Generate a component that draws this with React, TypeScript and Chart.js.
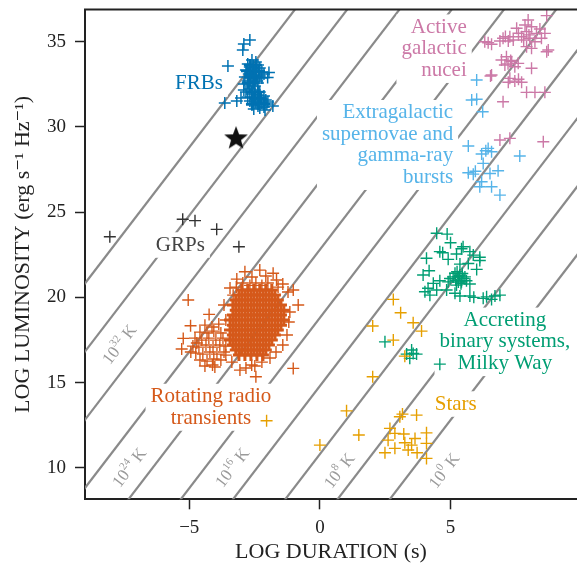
import { useEffect, useRef } from 'react';
import { Chart, registerables } from 'chart.js';

Chart.register(...registerables);

const FONT = '"Liberation Serif", "DejaVu Serif", serif';

// ---------- axes ----------
const xTicks = [-5, 0, 5];
const yTicks = [10, 15, 20, 25, 30, 35];
const xMin = -8.99;
const xMax = 9.84;
const yMin = 8.15;
const yMax = 36.89;

// ---------- brightness temperature lines: log L = offset + log T + 2 log t ----------
const tempExponents = [0, 4, 8, 12, 16, 20, 24, 28, 32, 36];
const tempLumOffset = 2.8;
const tempLabelExponents = [32, 24, 16, 8, 0];

// ---------- data (log duration s, log luminosity) ----------
const frbPts: number[][] = [
  [-2.68, 35.1], [-2.91, 34.87], [-2.95, 34.51], [-3.52, 33.57], [-3.64, 31.4], [-3.18, 31.52],
  [-3.02, 31.7], [-2.03, 31.35], [-1.8, 31.23], [-2.3, 31.11], [-2.53, 31.05], [-2.1, 30.99],
  [-2.6, 33.93], [-2.45, 33.81], [-2.76, 33.69], [-2.37, 33.63], [-2.68, 33.51], [-2.53, 33.46],
  [-2.3, 33.46], [-2.83, 33.34], [-2.6, 33.28], [-2.41, 33.22], [-2.22, 33.22], [-2.72, 33.1],
  [-2.49, 33.05], [-2.3, 32.99], [-2.87, 32.93], [-2.64, 32.87], [-2.45, 32.81], [-2.76, 32.7],
  [-2.56, 32.64], [-2.37, 32.58], [-2.91, 32.52], [-2.68, 32.46], [-2.49, 32.4], [-2.22, 32.87],
  [-2.14, 33.1], [-2.68, 32.23], [-2.49, 32.17], [-2.3, 32.05], [-2.6, 31.93], [-2.37, 31.87],
  [-2.14, 31.81], [-2.76, 31.76], [-2.53, 31.7], [-2.3, 31.64], [-2.07, 31.58], [-2.68, 31.52],
  [-2.45, 31.46], [-2.22, 31.4], [-2.6, 31.29], [-2.37, 31.23], [-2.14, 31.17], [-1.99, 31.46],
  [-2.83, 32.05], [-2.91, 32.17], [-2.55, 33.6], [-2.5, 33.3], [-2.65, 33.0], [-2.4, 32.7],
  [-2.6, 32.1], [-2.45, 31.6], [-2.3, 31.35], [-1.95, 33.2], [-2.0, 32.9],
];

// FRBs: densest part of the two clumps
const frbCorePts: number[][] = [
  [-2.68, 33.63], [-2.45, 33.63], [-2.79, 33.28], [-2.56, 33.28], [-2.33, 33.28], [-2.68, 32.93],
  [-2.45, 32.93], [-2.76, 32.58], [-2.53, 32.58], [-2.6, 32.05], [-2.37, 32.05], [-2.49, 31.7],
  [-2.26, 31.7], [-2.6, 31.35], [-2.37, 31.35], [-2.14, 31.35],
];

const grpPts: number[][] = [
  [-8.04, 23.56], [-5.25, 24.58], [-4.78, 24.5], [-3.95, 23.99], [-3.1, 22.97],
];

const starPts: number[][] = [[-3.21, 29.39]];

// Rotating radio transients / pulsars: dense core
const rratCorePts: number[][] = [
  [-2.99, 20.43], [-2.76, 20.43], [-2.53, 20.43], [-2.3, 20.43], [-2.07, 20.43], [-1.84, 20.43],
  [-3.1, 20.14], [-2.87, 20.14], [-2.64, 20.14], [-2.41, 20.14], [-2.18, 20.14], [-1.95, 20.14], [-1.72, 20.14],
  [-3.22, 19.84], [-2.99, 19.84], [-2.76, 19.84], [-2.53, 19.84], [-2.3, 19.84], [-2.07, 19.84], [-1.84, 19.84], [-1.61, 19.84],
  [-3.33, 19.55], [-3.1, 19.55], [-2.87, 19.55], [-2.64, 19.55], [-2.41, 19.55], [-2.18, 19.55], [-1.95, 19.55], [-1.72, 19.55], [-1.49, 19.55],
  [-3.22, 19.25], [-2.99, 19.25], [-2.76, 19.25], [-2.53, 19.25], [-2.3, 19.25], [-2.07, 19.25], [-1.84, 19.25], [-1.61, 19.25], [-1.38, 19.25],
  [-3.33, 18.96], [-3.1, 18.96], [-2.87, 18.96], [-2.64, 18.96], [-2.41, 18.96], [-2.18, 18.96], [-1.95, 18.96], [-1.72, 18.96], [-1.49, 18.96],
  [-3.44, 18.67], [-3.22, 18.67], [-2.99, 18.67], [-2.76, 18.67], [-2.53, 18.67], [-2.3, 18.67], [-2.07, 18.67], [-1.84, 18.67], [-1.61, 18.67], [-1.38, 18.67],
  [-3.33, 18.37], [-3.1, 18.37], [-2.87, 18.37], [-2.64, 18.37], [-2.41, 18.37], [-2.18, 18.37], [-1.95, 18.37], [-1.72, 18.37], [-1.49, 18.37],
  [-3.44, 18.08], [-3.22, 18.08], [-2.99, 18.08], [-2.76, 18.08], [-2.53, 18.08], [-2.3, 18.08], [-2.07, 18.08], [-1.84, 18.08], [-1.61, 18.08],
  [-3.33, 17.79], [-3.1, 17.79], [-2.87, 17.79], [-2.64, 17.79], [-2.41, 17.79], [-2.18, 17.79], [-1.95, 17.79], [-1.72, 17.79],
  [-3.44, 17.49], [-3.22, 17.49], [-2.99, 17.49], [-2.76, 17.49], [-2.53, 17.49], [-2.3, 17.49], [-2.07, 17.49], [-1.84, 17.49],
  [-3.33, 17.2], [-3.1, 17.2], [-2.87, 17.2], [-2.64, 17.2], [-2.41, 17.2], [-2.18, 17.2], [-1.95, 17.2],
  [-3.22, 16.91], [-2.99, 16.91], [-2.76, 16.91], [-2.53, 16.91], [-2.3, 16.91], [-2.07, 16.91],
  [-3.1, 16.61], [-2.87, 16.61], [-2.64, 16.61], [-2.41, 16.61], [-2.18, 16.61],
];

// Rotating radio transients / pulsars: sparse edge, left group and outliers
const rratPts: number[][] = [
  [-2.87, 21.5], [-2.3, 21.6], [-1.79, 21.41], [-1.66, 21.02], [-3.18, 21.07], [-2.6, 21.19],
  [-2.07, 21.25], [-3.32, 20.13], [-3.44, 20.55], [-1.42, 20.78], [-1.22, 20.31], [-1.02, 20.43],
  [-0.83, 19.55], [-1.15, 19.14], [-1.19, 18.55], [-1.26, 17.79], [-1.42, 17.2], [-1.68, 16.79],
  [-1.91, 16.44], [-2.22, 16.2], [-2.49, 15.97], [-2.83, 15.85], [-2.45, 15.34], [-3.06, 15.73],
  [-2.61, 16.03], [-3.37, 16.2], [-3.6, 16.61], [-3.67, 19.55], [-3.6, 18.67],
  [-2.95, 20.84], [-2.45, 20.84], [-1.99, 20.84], [-2.68, 20.7], [-2.22, 20.7], [-3.2, 20.6], [-1.6, 20.6],
  [-4.4, 18.37], [-4.13, 18.26], [-3.87, 18.43], [-4.59, 17.96], [-4.32, 17.91], [-4.06, 18.02],
  [-3.79, 17.91], [-4.78, 17.61], [-4.52, 17.49], [-4.25, 17.61], [-3.98, 17.49], [-3.71, 17.61],
  [-4.86, 17.14], [-4.63, 17.08], [-4.36, 17.2], [-4.09, 17.08], [-3.83, 17.2], [-3.6, 17.14],
  [-4.75, 16.73], [-4.48, 16.67], [-4.21, 16.79], [-3.94, 16.67], [-3.67, 16.79], [-4.59, 16.32],
  [-4.32, 16.26], [-4.06, 16.38], [-3.79, 16.32], [-4.4, 15.97], [-4.02, 15.91], [-4.71, 17.32],
  [-4.94, 16.79],
  [-5.04, 19.84], [-4.24, 19.0], [-4.95, 18.33], [-5.23, 17.59], [-5.29, 16.97], [-1.02, 15.83], [-4.11, 16.03],
];

const agnPts: number[][] = [
  [8.68, 36.53], [7.97, 36.27], [7.85, 35.98], [8.1, 35.88], [7.53, 35.79], [8.42, 35.75],
  [8.29, 35.49], [8.61, 35.49], [7.91, 35.59], [7.27, 35.29], [7.01, 35.2], [7.21, 35.04],
  [7.4, 35.1], [7.72, 35.29], [8.04, 35.2], [8.48, 35.2], [8.23, 35.0], [6.31, 35.0],
  [6.57, 34.85], [6.89, 35.04], [7.91, 34.71], [8.1, 34.61], [8.68, 34.41], [7.14, 34.12],
  [6.95, 33.93], [7.34, 33.83], [7.59, 33.73], [7.08, 33.63], [7.46, 33.53], [8.1, 33.44],
  [6.57, 33.05], [7.27, 32.85], [7.46, 32.69], [7.72, 32.62], [7.21, 32.62], [7.91, 32.03],
  [8.23, 32.03], [8.61, 32.03], [7.01, 31.48], [6.44, 34.94], [6.53, 32.99], [6.89, 29.23],
  [7.27, 29.33], [8.55, 29.13], [8.74, 34.51], [7.6, 35.5], [7.8, 35.1], [8.0, 35.4],
  [7.1, 35.3], [7.3, 33.9], [7.2, 33.7], [7.6, 32.8],
];

const grbPts: number[][] = [
  [6.0, 32.75], [5.81, 31.58], [6.0, 31.62], [6.23, 30.89], [5.68, 28.88], [6.19, 28.41],
  [6.44, 28.74], [6.57, 28.54], [6.25, 27.86], [7.65, 28.29], [5.68, 27.31], [5.87, 27.23],
  [6.51, 27.27], [6.82, 27.43], [6.19, 26.78], [6.57, 26.49], [6.89, 26.0], [6.12, 26.49],
  [6.35, 28.6], [5.95, 27.4],
];

const binaryPts: number[][] = [
  [4.47, 23.76], [4.87, 23.71], [5.0, 23.2], [4.08, 22.29], [4.59, 22.68], [4.7, 22.62],
  [4.91, 22.23], [5.23, 22.54], [5.48, 22.97], [5.74, 22.68], [6.12, 22.35], [5.87, 22.48],
  [5.36, 21.95], [5.68, 21.99], [6.0, 21.64], [4.18, 21.56], [3.95, 21.31], [5.17, 21.41],
  [5.29, 21.21], [5.48, 21.11], [5.61, 20.97], [5.74, 20.78], [4.98, 21.11], [4.91, 20.91],
  [4.59, 20.97], [4.34, 20.82], [4.14, 20.53], [4.02, 20.33], [4.47, 20.43], [4.85, 20.43],
  [5.23, 20.72], [5.42, 20.91], [5.17, 20.24], [5.36, 20.08], [5.74, 20.08], [5.89, 20.0],
  [4.21, 20.13], [6.38, 20.03], [6.7, 20.08], [6.89, 20.13], [6.57, 19.88], [6.25, 19.94],
  [5.2, 21.0], [5.35, 21.3], [5.3, 20.9], [5.45, 21.4], [5.1, 21.2], [5.25, 21.5],
  [5.4, 20.8], [5.55, 21.2], [5.42, 22.85], [6.12, 22.16],
  [2.49, 17.39], [3.32, 16.67], [3.51, 16.91], [3.57, 16.71], [3.7, 16.67], [3.44, 16.42], [4.59, 16.08],
];

const starsPts: number[][] = [
  [2.81, 19.88], [3.09, 19.1], [3.57, 18.51], [3.89, 18.02], [2.02, 18.32], [2.81, 17.49],
  [3.25, 16.55], [2.02, 15.34], [1.02, 13.34], [1.49, 11.92], [0.0, 11.33], [3.16, 13.15],
  [3.7, 13.09], [3.06, 12.99], [2.68, 12.31], [2.87, 12.02], [3.21, 11.98], [3.64, 11.72],
  [4.08, 12.05], [2.61, 11.62], [2.87, 11.14], [2.49, 10.88], [3.38, 11.04], [3.72, 10.88],
  [4.08, 11.43], [4.08, 10.55], [3.25, 11.47], [3.51, 11.33], [-2.04, 12.76],
];

// ---------- colours ----------
const C_FRB = '#0072B2';
const C_GRP = '#333333';
const C_RRAT = '#D5591A';
const C_AGN = '#CC79A7';
const C_GRB = '#56B4E9';
const C_BIN = '#009E73';
const C_STAR = '#E69F00';
const C_TEMP = '#8a8a8a';
const C_TEMP_LABEL = '#9a9a9a';
const C_AXIS = '#222222';

// ---------- annotations ----------
const textLabels = [
  { lines: ['FRBs'], x: -4.63, y: 32.52, color: C_FRB, align: 'center' },
  { lines: ['GRPs'], x: -5.34, y: 23.07, color: '#444444', align: 'center' },
  { lines: ['Active', 'galactic', 'nucei'], x: 5.62, y: 34.59, color: C_AGN, align: 'right' },
  { lines: ['Extragalactic', 'supernovae and', 'gamma-ray', 'bursts'], x: 5.1, y: 28.94, color: C_GRB, align: 'right' },
  { lines: ['Accreting', 'binary systems,', 'Milky Way'], x: 7.08, y: 17.39, color: C_BIN, align: 'center' },
  { lines: ['Stars'], x: 5.2, y: 13.74, color: C_STAR, align: 'center' },
  { lines: ['Rotating radio', 'transients'], x: -4.17, y: 13.55, color: C_RRAT, align: 'center' },
];
const tempLabelPos = [
  { x: -7.65, y: 17.2 },
  { x: -7.27, y: 9.98 },
  { x: -3.33, y: 9.98 },
  { x: 0.77, y: 9.8 },
  { x: 4.78, y: 9.8 },
];

function makeStar(size: number, color: string) {
  const c = document.createElement('canvas');
  c.width = size;
  c.height = size;
  const g = c.getContext('2d')!;
  const R = size / 2 - 0.5;
  const r = R * 0.42;
  const cx = size / 2;
  const cy = size / 2 + R * 0.095;
  g.beginPath();
  for (let i = 0; i < 10; i++) {
    const a = -Math.PI / 2 + (i * Math.PI) / 5;
    const rad = i % 2 === 0 ? R : r;
    g.lineTo(cx + rad * Math.cos(a), cy + rad * Math.sin(a));
  }
  g.closePath();
  g.fillStyle = color;
  g.fill();
  return c;
}

const annotationPlugin = {
  id: 'annotations',
  beforeDatasetsDraw(chart: any) {
    chart.$annDone = false;
  },
  beforeDatasetDraw(chart: any, args: any) {
    const ds = chart.data.datasets[args.index];
    if (String(ds.label).startsWith('T_') || chart.$annDone) return;
    chart.$annDone = true;
    const ctx = chart.ctx as CanvasRenderingContext2D;
    const xs = chart.scales.x;
    const ys = chart.scales.y;
    const area = chart.chartArea;
    ctx.save();
    ctx.beginPath();
    ctx.rect(area.left, area.top, area.right - area.left, area.bottom - area.top);
    ctx.clip();

    // temperature labels
    const pxPerX = Math.abs(xs.getPixelForValue(1) - xs.getPixelForValue(0));
    const pxPerY = Math.abs(ys.getPixelForValue(1) - ys.getPixelForValue(0));
    const angle = Math.atan2(2 * pxPerY, pxPerX);
    tempLabelExponents.forEach((e, i) => {
      const p = tempLabelPos[i];
      const px = xs.getPixelForValue(p.x);
      const py = ys.getPixelForValue(p.y);
      ctx.save();
      ctx.translate(px, py);
      ctx.rotate(-angle);
      ctx.fillStyle = C_TEMP_LABEL;
      ctx.textBaseline = 'middle';
      ctx.textAlign = 'left';
      const big = `17px ${FONT}`;
      const small = `11px ${FONT}`;
      ctx.font = big;
      const w1 = ctx.measureText('10').width;
      const w3 = ctx.measureText(' K').width;
      ctx.font = small;
      const w2 = ctx.measureText(String(e)).width;
      let sx = -(w1 + w2 + w3) / 2;
      ctx.font = big;
      ctx.fillText('10', sx, 0);
      sx += w1;
      ctx.font = small;
      ctx.fillText(String(e), sx, -6);
      sx += w2;
      ctx.font = big;
      ctx.fillText(' K', sx, 0);
      ctx.restore();
    });

    // text labels with white boxes
    const size = 21;
    const lh = 21.5;
    ctx.font = `${size}px ${FONT}`;
    textLabels.forEach((lab) => {
      const px = xs.getPixelForValue(lab.x);
      const py = ys.getPixelForValue(lab.y);
      const widths = lab.lines.map((l) => ctx.measureText(l).width);
      const maxW = Math.max(...widths);
      const totalH = lh * lab.lines.length;
      let left = px - maxW / 2;
      if (lab.align === 'right') left = px - maxW;
      if (lab.align === 'left') left = px;
      const top = py - totalH / 2;
      ctx.fillStyle = '#ffffff';
      ctx.fillRect(left - 5, top - 2, maxW + 10, totalH + 4);
      ctx.fillStyle = lab.color;
      ctx.textAlign = lab.align as CanvasTextAlign;
      ctx.textBaseline = 'middle';
      lab.lines.forEach((l, i) => ctx.fillText(l, px, top + lh * (i + 0.5)));
    });
    ctx.restore();
  },
  afterDraw(chart: any) {
    const ctx = chart.ctx as CanvasRenderingContext2D;
    const a = chart.chartArea;
    ctx.save();
    ctx.strokeStyle = C_AXIS;
    ctx.lineWidth = 2;
    ctx.beginPath();
    ctx.moveTo(a.left - 1, a.top);
    ctx.lineTo(a.right, a.top);
    ctx.stroke();
    ctx.restore();
  },
};

const toXY = (pts: number[][]) => pts.map(([x, y]) => ({ x, y }));

function crossSet(label: string, pts: number[][], color: string, width = 1.4, radius = 6) {
  return {
    label,
    data: toXY(pts),
    showLine: false,
    pointStyle: 'cross',
    pointRadius: radius,
    pointBorderWidth: width,
    pointBorderColor: color,
    pointBackgroundColor: color,
    borderColor: color,
    backgroundColor: color,
    order: 0,
  };
}

const zeroPad = (s: any) => {
  s.paddingTop = 0;
  s.paddingBottom = 0;
  s.paddingLeft = 0;
  s.paddingRight = 0;
};

export default function App() {
  const ref = useRef<HTMLCanvasElement>(null);

  useEffect(() => {
    const canvas = ref.current!;
    Chart.defaults.font.family = FONT;
    const tempSets = tempExponents.map((e) => ({
      label: 'T_' + e,
      data: [
        { x: -10, y: tempLumOffset + e + 2 * -10 },
        { x: 11, y: tempLumOffset + e + 2 * 11 },
      ],
      showLine: true,
      borderColor: C_TEMP,
      borderWidth: 2.2,
      pointRadius: 0,
      order: 10,
      clip: 0,
    }));
    const starImg = makeStar(26, '#111111');
    const chart = new Chart(canvas, {
      type: 'scatter',
      data: {
        datasets: [
          ...tempSets,
          crossSet('Stars', starsPts, C_STAR),
          crossSet('Accreting binaries', binaryPts, C_BIN),
          crossSet('SNe and GRBs', grbPts, C_GRB),
          crossSet('AGN', agnPts, C_AGN),
          crossSet('RRAT', rratPts, C_RRAT),
          crossSet('RRAT core', rratCorePts, C_RRAT, 3, 6),
          crossSet('GRPs', grpPts, C_GRP),
          crossSet('FRBs', frbPts, C_FRB, 1.5),
          crossSet('FRBs core', frbCorePts, C_FRB, 2.4, 6),
          {
            label: 'FRB 121102 burst',
            data: toXY(starPts),
            showLine: false,
            pointStyle: starImg,
            pointRadius: 12,
            order: 0,
          },
        ] as any,
      },
      options: {
        responsive: false,
        animation: false,
        events: [],
        layout: { autoPadding: false, padding: { top: 9.5, right: 0, left: 0, bottom: 0 } },
        plugins: {
          legend: { display: false },
          tooltip: { enabled: false },
        },
        scales: {
          x: {
            type: 'linear',
            min: xMin,
            max: xMax,
            afterBuildTicks: (s: any) => {
              s.ticks = xTicks.map((v) => ({ value: v }));
            },
            afterFit: (s: any) => {
              s.height = 63.7;
              zeroPad(s);
            },
            ticks: {
              color: C_AXIS,
              font: { size: 19, family: FONT },
              padding: 7,
              maxRotation: 0,
              callback: (v: any) => String(v).replace('-', '\u2212'),
            },
            grid: {
              drawOnChartArea: false,
              drawTicks: true,
              tickLength: 10,
              tickWidth: 1.5,
              tickColor: C_AXIS,
            },
            border: { display: true, color: C_AXIS, width: 2 },
            title: {
              display: true,
              text: 'LOG DURATION (s)',
              color: C_AXIS,
              font: { size: 22, family: FONT },
              padding: { top: 0, bottom: -2 },
            },
          },
          y: {
            type: 'linear',
            min: yMin,
            max: yMax,
            afterBuildTicks: (s: any) => {
              s.ticks = yTicks.map((v) => ({ value: v }));
            },
            afterFit: (s: any) => {
              s.width = 85;
              zeroPad(s);
            },
            ticks: {
              color: C_AXIS,
              font: { size: 19, family: FONT },
              padding: 9,
            },
            grid: {
              drawOnChartArea: false,
              drawTicks: true,
              tickLength: 10,
              tickWidth: 1.5,
              tickColor: C_AXIS,
            },
            border: { display: true, color: C_AXIS, width: 2 },
            title: {
              display: true,
              text: 'LOG LUMINOSITY (erg s\u207B\u00B9 Hz\u207B\u00B9)',
              color: C_AXIS,
              font: { size: 22, family: FONT },
              padding: { top: 10, bottom: 0 },
            },
          },
        },
      } as any,
      plugins: [annotationPlugin],
    });
    return () => chart.destroy();
  }, []);

  return (
    <div style={{ position: 'absolute', left: 0, top: 0, width: 577, height: 563, background: '#ffffff' }}>
      <canvas ref={ref} width={577} height={563} style={{ display: 'block', width: 577, height: 563 }} />
    </div>
  );
}
